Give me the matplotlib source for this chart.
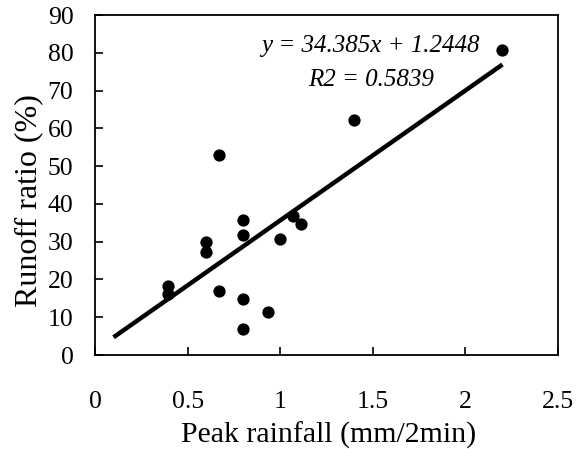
import matplotlib
matplotlib.use("Agg")
import matplotlib.pyplot as plt
import numpy as np

peak_rainfall = [0.667, 0.80, 0.80, 0.60, 0.60, 0.393, 0.393, 0.667, 0.80, 0.80,
                 0.934, 1.0, 1.07, 1.11, 1.40, 2.20]
runoff_ratio = [53.0, 35.8, 31.8, 29.8, 27.3, 18.2, 16.2, 17.0, 14.8, 6.8,
                11.4, 30.8, 36.8, 34.8, 62.3, 80.8]
slope = 34.385
intercept = 1.2448
fit_range = [0.1, 2.2]
x_ticks = [0, 0.5, 1, 1.5, 2, 2.5]
x_tick_labels = ["0", "0.5", "1", "1.5", "2", "2.5"]
y_ticks = [0, 10, 20, 30, 40, 50, 60, 70, 80, 90]

plt.rcParams['font.family'] = ['Liberation Serif', 'DejaVu Serif']

fig = plt.figure(figsize=(5.8, 4.49), dpi=100)
ax = fig.add_axes([95/580, 1 - 355/449, (558 - 95)/580, (355 - 15)/449])

ax.scatter(peak_rainfall, runoff_ratio, s=78, color='black', zorder=3, linewidths=0)
fx = np.array(fit_range)
ax.plot(fx, slope * fx + intercept, color='black', lw=3.2, solid_capstyle='butt', zorder=2)

ax.set_xlim(0, 2.5)
ax.set_ylim(0, 90)
ax.set_xticks(x_ticks)
ax.set_xticklabels(x_tick_labels)
ax.set_yticks(y_ticks)
ax.tick_params(axis='x', direction='in', length=6, width=1.2, pad=26, labelsize=18.5)
ax.tick_params(axis='y', direction='in', length=6, width=1.2, pad=15.5, labelsize=18.5)
for s in ax.spines.values():
    s.set_linewidth(1.3)

ax.set_xlabel("Peak rainfall (mm/2min)", fontsize=21.5, va='top')
ax.xaxis.set_label_coords(0.505, -0.195)
ax.set_ylabel("Runoff ratio (%)", fontsize=23)
ax.yaxis.set_label_coords(-0.112, 0.453)

ax.text(0.594, 0.909, "y = 34.385x + 1.2448", transform=ax.transAxes, ha='center', va='center',
        fontsize=18, style='italic')
ax.text(0.596, 0.809, "R2 = 0.5839", transform=ax.transAxes, ha='center', va='center',
        fontsize=18, style='italic')

fig.savefig("out.png", dpi=100)
